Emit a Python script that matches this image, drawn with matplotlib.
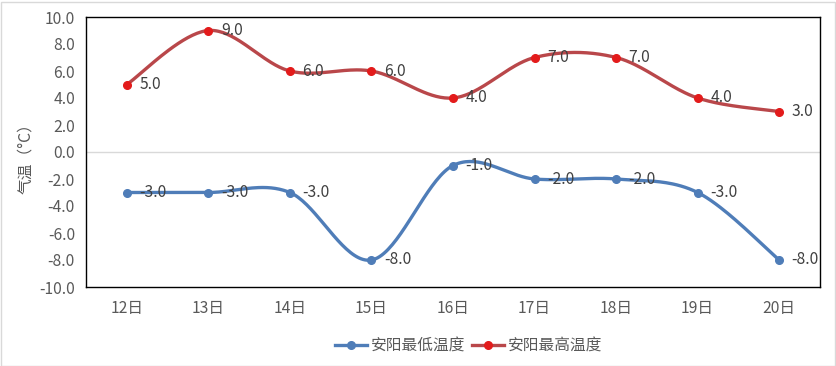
import numpy as np
import matplotlib
matplotlib.use("Agg")
import matplotlib.pyplot as plt
from matplotlib.lines import Line2D
from matplotlib.patches import Rectangle

plt.rcParams['font.family'] = ['Noto Sans CJK SC', 'DejaVu Sans']

days = ["12日", "13日", "14日", "15日", "16日", "17日", "18日", "19日", "20日"]
low_temp = [-3, -3, -3, -8, -1, -2, -2, -3, -8]
high_temp = [5, 9, 6, 6, 4, 7, 7, 4, 3]
low_name = "安阳最低温度"
high_name = "安阳最高温度"
y_ticks = [-10, -8, -6, -4, -2, 0, 2, 4, 6, 8, 10]

BLUE = "#4F7DB8"
RED_LINE = "#B9474A"
RED_DOT = "#E31B1B"
GRAY = "#595959"
FS = 11.3


def smooth(xs, ys, n=40):
    # Excel-like smoothing: cubic bezier with catmull-rom control points
    pts = np.column_stack([xs, ys]).astype(float)
    out = [pts[0]]
    for i in range(len(pts) - 1):
        p0 = pts[i - 1] if i > 0 else pts[i]
        p1 = pts[i]
        p2 = pts[i + 1]
        p3 = pts[i + 2] if i + 2 < len(pts) else pts[i + 1]
        c1 = p1 + (p2 - p0) / 6
        c2 = p2 - (p3 - p1) / 6
        t = np.linspace(0, 1, n)[1:, None]
        seg = ((1 - t) ** 3) * p1 + 3 * ((1 - t) ** 2) * t * c1 + 3 * (1 - t) * t ** 2 * c2 + t ** 3 * p2
        out.extend(seg)
    out = np.array(out)
    return out[:, 0], out[:, 1]


fig = plt.figure(figsize=(8.36, 3.66), dpi=100)
ax = fig.add_axes([86 / 836, 1 - 287 / 366, 734 / 836, 270 / 366])

x = np.arange(len(days))
for vals, lc, mc in [(low_temp, BLUE, BLUE), (high_temp, RED_LINE, RED_DOT)]:
    sx, sy = smooth(x, vals)
    ax.plot(sx, sy, color=lc, lw=2.4, solid_capstyle='round', zorder=3)
    ax.plot(x, vals, 'o', color=mc, ms=5.5, zorder=4)
    for xi, v in zip(x, vals):
        ax.annotate(f"{v:.1f}", (xi, v), xytext=(9, 0), textcoords='offset points',
                    ha='left', va='center', fontsize=FS, color="#404040", zorder=5)

ax.axhline(0, color="#D9D9D9", lw=1, zorder=1)
ax.set_xlim(-0.5, len(days) - 0.5)
ax.set_ylim(-10, 10)
ax.set_yticks(y_ticks)
ax.set_yticklabels([f"{t:.1f}" for t in y_ticks])
ax.set_xticks(x)
ax.set_xticklabels(days)
ax.tick_params(length=0, labelsize=FS, colors=GRAY, pad=8)
ax.tick_params(axis='x', pad=9)
for s in ax.spines.values():
    s.set_color("black")
    s.set_linewidth(1)

fig.text(26 / 836, 1 - 155 / 366, "气温（°C）", rotation=90, ha='center', va='center',
         fontsize=FS, color=GRAY)

handles = [Line2D([], [], color=BLUE, lw=2.4, marker='o', ms=5.5),
           Line2D([], [], color=RED_LINE, lw=2.4, marker='o', ms=5.5, mfc=RED_DOT, mec=RED_DOT)]
fig.legend(handles, [low_name, high_name], loc='center', bbox_to_anchor=(469 / 836, 1 - 346 / 366),
           ncol=2, frameon=False, fontsize=FS, labelcolor=GRAY, handlelength=2.0,
           handletextpad=0.3, columnspacing=0.4)

fig.patches.append(Rectangle((0.5 / 836, 0.5 / 366), 834 / 836, 364 / 366, transform=fig.transFigure,
                             fill=False, edgecolor="#D9D9D9", lw=1))

fig.savefig("out.png", dpi=100)
